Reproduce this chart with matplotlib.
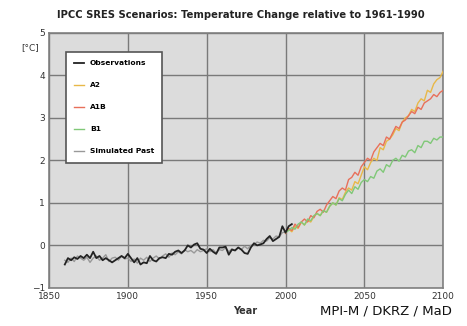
import matplotlib.pyplot as plt
import numpy as np

# observations, 1860-2004 every 2 years
obs_years = np.arange(1860, 2005, 2)
obs = [-0.45, -0.3, -0.35, -0.28, -0.32, -0.25, -0.3, -0.22, -0.3, -0.15,
       -0.3, -0.25, -0.35, -0.3, -0.35, -0.4, -0.35, -0.3, -0.25, -0.3,
       -0.2, -0.3, -0.4, -0.3, -0.45, -0.4, -0.42, -0.25, -0.35, -0.38,
       -0.3, -0.28, -0.3, -0.2, -0.22, -0.15, -0.12, -0.18, -0.12, 0.0,
       -0.05, 0.02, 0.05, -0.08, -0.1, -0.18, -0.08, -0.15, -0.2, -0.05,
       -0.05, -0.03, -0.22, -0.1, -0.12, -0.05, -0.1, -0.18, -0.2, -0.05,
       0.05, 0.0, 0.02, 0.05, 0.15, 0.22, 0.1, 0.15, 0.2, 0.45,
       0.3, 0.45, 0.5]

# simulated past, 1860-2000
sim_years = np.arange(1860, 2001, 2)
sim = [-0.35, -0.4, -0.3, -0.38, -0.25, -0.3, -0.35, -0.28, -0.4, -0.3,
       -0.25, -0.35, -0.3, -0.22, -0.38, -0.3, -0.28, -0.35, -0.25, -0.32,
       -0.3, -0.38, -0.32, -0.42, -0.3, -0.35, -0.28, -0.38, -0.3, -0.25,
       -0.32, -0.25, -0.2, -0.28, -0.18, -0.22, -0.15, -0.2, -0.1, -0.15,
       -0.12, -0.18, -0.1, -0.15, -0.12, -0.08, -0.15, -0.1, -0.18, -0.1,
       -0.12, -0.05, -0.15, -0.08, -0.12, -0.05, -0.1, -0.02, -0.08, 0.0,
       0.02, 0.08, 0.05, 0.12, 0.1, 0.18, 0.15, 0.22, 0.2, 0.3,
       0.32]

# scenarios, 2000-2100
scen_years = np.arange(2000, 2101, 2)
a2 = [0.30, 0.38, 0.32, 0.45, 0.40, 0.55, 0.48, 0.58, 0.55, 0.68,
      0.75, 0.70, 0.82, 0.78, 0.92, 1.00, 0.95, 1.12, 1.08, 1.25,
      1.35, 1.30, 1.50, 1.45, 1.65, 1.85, 1.78, 1.95, 2.05, 2.00,
      2.30, 2.25, 2.45, 2.50, 2.60, 2.75, 2.70, 2.90, 3.00, 3.05,
      3.20, 3.15, 3.35, 3.45, 3.40, 3.65, 3.60, 3.80, 3.90, 3.95, 4.10]
a1b = [0.28, 0.40, 0.35, 0.50, 0.42, 0.55, 0.62, 0.55, 0.70, 0.65,
       0.80, 0.85, 0.78, 0.95, 1.05, 1.15, 1.10, 1.28, 1.35, 1.30,
       1.55, 1.60, 1.72, 1.65, 1.85, 1.95, 2.05, 2.00, 2.20, 2.30,
       2.40, 2.35, 2.55, 2.50, 2.65, 2.80, 2.75, 2.90, 2.95, 3.05,
       3.15, 3.10, 3.25, 3.20, 3.35, 3.40, 3.45, 3.55, 3.50, 3.60, 3.65]
b1 = [0.30, 0.35, 0.42, 0.38, 0.50, 0.55, 0.48, 0.62, 0.58, 0.70,
      0.75, 0.70, 0.82, 0.78, 0.92, 1.00, 0.95, 1.10, 1.05, 1.20,
      1.30, 1.22, 1.38, 1.32, 1.48, 1.55, 1.50, 1.62, 1.58, 1.75,
      1.80, 1.72, 1.90, 1.85, 2.00, 2.05, 1.98, 2.12, 2.08, 2.22,
      2.25, 2.18, 2.35, 2.30, 2.45, 2.45, 2.40, 2.52, 2.48, 2.55, 2.55]

fig = plt.figure(figsize=(4.67, 3.26), dpi=100)
ax = fig.add_axes([0.105, 0.117, 0.844, 0.782])
ax.set_facecolor('#dcdcdc')

ax.plot(obs_years, obs, color='#222222', lw=1.3, label='Observations', zorder=4)
ax.plot(scen_years, a2, color='#e8b848', lw=1.0, label='A2', zorder=3)
ax.plot(scen_years, a1b, color='#e8705a', lw=1.0, label='A1B', zorder=3)
ax.plot(scen_years, b1, color='#80c878', lw=1.0, label='B1', zorder=3)
ax.plot(sim_years, sim, color='#999999', lw=1.0, label='Simulated Past', zorder=3)

ax.set_xlim(1850, 2100)
ax.set_ylim(-1, 5)
ax.set_xticks([1850, 1900, 1950, 2000, 2050, 2100])
ax.set_yticks([-1, 0, 1, 2, 3, 4, 5])
ax.grid(True, color='#7a7a7a', lw=1.0)
ax.set_axisbelow(True)
ax.tick_params(length=0, labelsize=6.5, colors='#333333', pad=3)
for s in ax.spines.values():
    s.set_color('#808080')
    s.set_linewidth(1.2)

leg = ax.legend(loc='upper left', bbox_to_anchor=(0.033, 0.94),
                prop={'size': 5.4, 'weight': 'bold'}, handlelength=1.3,
                labelspacing=2.1, borderpad=1.1, fancybox=False,
                framealpha=1, edgecolor='#555555')
leg.get_frame().set_linewidth(1.2)

fig.text(0.515, 0.955, 'IPCC SRES Scenarios: Temperature Change relative to 1961-1990',
         ha='center', va='center', fontsize=7.2, fontweight='bold', color='#222222')
fig.text(0.065, 0.855, '[°C]', ha='center', va='center', fontsize=6.5, color='#333333')
fig.text(0.525, 0.045, 'Year', ha='center', va='center', fontsize=7, fontweight='bold', color='#333333')
fig.text(0.968, 0.045, 'MPI-M / DKRZ / MaD', ha='right', va='center', fontsize=9.5, color='#111111')

fig.savefig('out.png', dpi=100)
